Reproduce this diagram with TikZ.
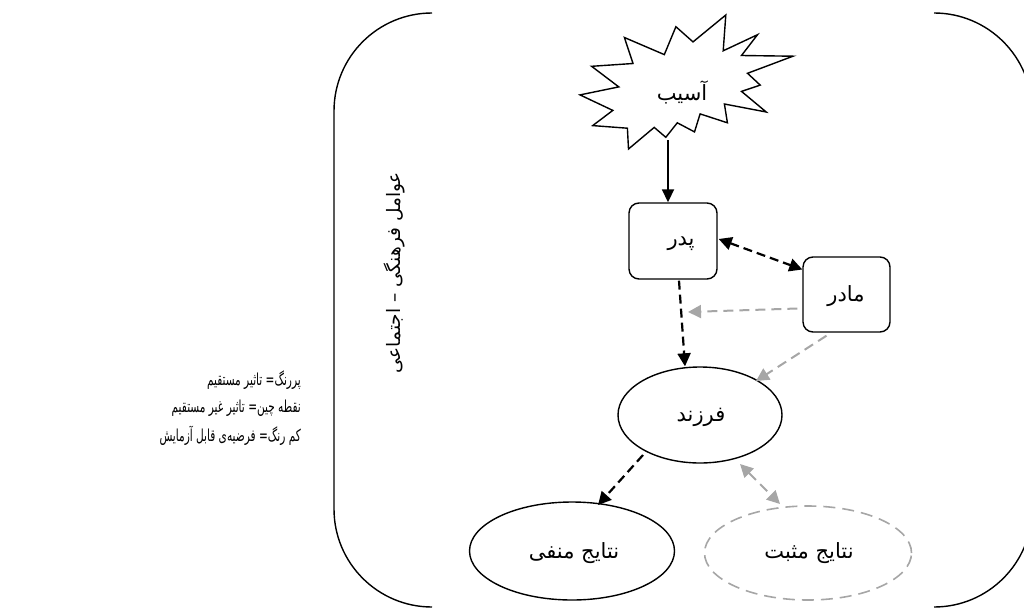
\documentclass[tikz,border=0pt]{standalone}
\usepackage{fontspec}
\newfontfamily\fa[Script=Arabic]{DejaVu Sans}
\newfontfamily\faN[Script=Arabic,FakeStretch=0.64]{DejaVu Sans}
\TeXXeTstate=1
\usetikzlibrary{arrows.meta,calc,shapes.geometric}
\definecolor{lg}{HTML}{A6A6A6}
\tikzset{
  txt/.style={font=\fa\fontsize{21}{24}\selectfont, inner sep=0pt},
  legtxt/.style={font=\faN\fontsize{16.5}{19}\selectfont, inner sep=0pt, anchor=east},
  vtxt/.style={font=\fa\fontsize{18.5}{22}\selectfont, inner sep=0pt, rotate=90},
  boxn/.style={draw=black, line width=1.4pt, rounded corners=10pt, fill=white},
  elln/.style={draw=black, line width=1.4pt, ellipse, fill=white},
  ellgray/.style={draw=lg, line width=1.6pt, ellipse, dash pattern=on 12pt off 7pt},
  solidarr/.style={draw=black, line width=1.8pt, -{Triangle[length=13pt,width=12pt]}},
  darr/.style={draw=black, line width=2.2pt, dash pattern=on 9pt off 5pt, -{Triangle[length=13pt,width=13pt]}},
  ddarr/.style={draw=black, line width=2.2pt, dash pattern=on 9pt off 5pt, {Triangle[length=13pt,width=13pt]}-{Triangle[length=13pt,width=13pt]}},
  garr/.style={draw=lg, line width=2pt, dash pattern=on 10pt off 6pt, -{Triangle[length=13pt,width=13pt]}},
  gdarr/.style={draw=lg, line width=2pt, dash pattern=on 10pt off 6pt, {Triangle[length=13pt,width=13pt]}-{Triangle[length=13pt,width=13pt]}},
  frame/.style={draw=black, line width=1.4pt}
}
\begin{document}
\begin{tikzpicture}[x=1pt,y=-1pt]
\useasboundingbox[clip] (0,0) rectangle (1024,610);
% bracket pair
\draw[frame] (432,13) arc[start angle=-90,end angle=-180,radius=98] -- (334,509) arc[start angle=180,end angle=90,radius=98];
\draw[frame] (934,13) arc[start angle=-90,end angle=0,radius=98] -- (1032,509) arc[start angle=0,end angle=90,radius=98];
% explosion
\draw[line width=1.4pt, fill=white, line join=miter]
 (693.0,41.9) -- (675.9,26.7) -- (664.3,54.6) -- (624.4,37.5) -- (633.0,63.5) -- (591.6,66.3)
 -- (618.8,86.9) -- (580.0,94.9) -- (612.8,110.4) -- (592.7,125.6) -- (627.4,128.2) -- (628.5,149.0)
 -- (654.2,127.4) -- (665.8,137.3) -- (677.3,122.8) -- (694.5,131.9) -- (700.1,113.9) -- (727.4,122.8)
 -- (724.4,104.0) -- (766.2,112.0) -- (741.5,91.4) -- (760.2,85.1) -- (747.5,73.3) -- (793.0,56.2)
 -- (741.5,55.5) -- (757.5,34.7) -- (723.2,50.8) -- (725.8,15.0) -- cycle;
\node[txt] (asib) at (682,92) {\beginR آسیب\endR};
\coordinate (sb) at (668,140);
% nodes
\node[boxn, minimum width=88pt, minimum height=76pt] (pedar) at (673,241) {};
\node[txt] (pedart) at (681,244) {\beginR پدر\endR};
\node[boxn, minimum width=87pt, minimum height=75pt] (madar) at (846.5,294.5) {};
\node[txt] (madart) at (846,296) {\beginR مادر\endR};
\node[elln, minimum width=164pt, minimum height=96pt] (farzand) at (700,415) {};
\node[txt] (farzandt) at (701,417) {\beginR فرزند\endR};
\node[elln, minimum width=205pt, minimum height=98pt] (manfi) at (572,551) {};
\node[txt] (manfit) at (574,553) {\beginR نتایج منفی\endR};
\node[ellgray, minimum width=207pt, minimum height=94pt] (mosbat) at (808,553) {};
\node[txt] (mosbatt) at (809,553) {\beginR نتایج مثبت\endR};
% vertical label
\node[vtxt] (farh) at (394,273) {\beginR عوامل فرهنگی – اجتماعی\endR};
% legend
\node[legtxt] (l1) at (301,380) {\beginR پررنگ= تاثیر مستقیم\endR};
\node[legtxt] (l2) at (301,408) {\beginR نقطه چین= تاثیر غیر مستقیم\endR};
\node[legtxt] (l3) at (301,436) {\beginR کم رنگ= فرضیه‌ی قابل آزمایش\endR};
% connectors
\draw[solidarr] (sb) -- (sb |- pedar.north);
\draw[ddarr] ($(pedar.east)+(1,-2)$) -- ($(madar.west)+(0,-25)$);
\draw[darr] ($(pedar.south)+(6,1)$) -- ($(farzand.north)+(-15,0)$);
\coordinate (mid) at (688,312);
\draw[garr] ($(madar.west)+(-5,14)$) -- (mid);
\draw[garr] ($(madar.south)+(-20,3)$) -- ($(farzand)+(56,-34)$);
\draw[darr] ($(farzand)+(-57,40)$) -- ($(manfi)+(26,-46)$);
\draw[gdarr] ($(farzand)+(40,49)$) -- ($(mosbat)+(-28,-49)$);
\end{tikzpicture}
\end{document}
